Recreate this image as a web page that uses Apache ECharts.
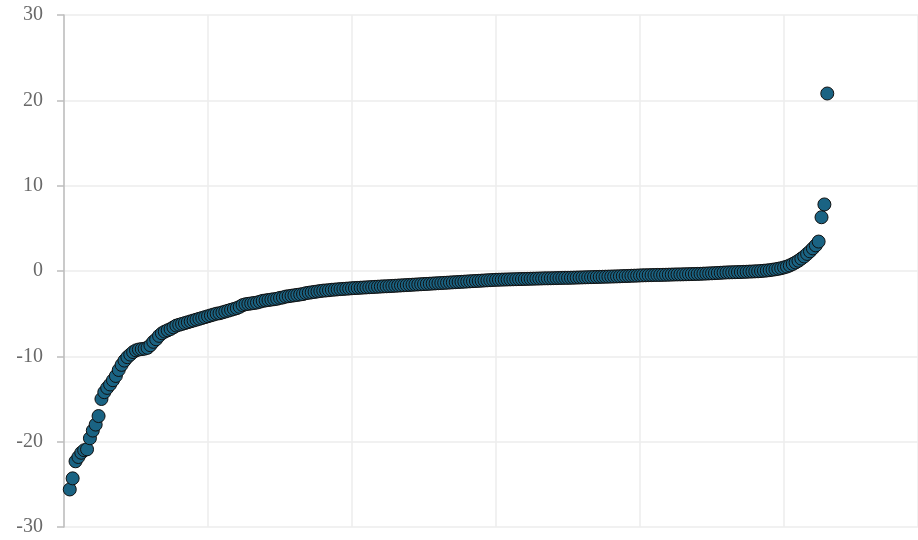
<!DOCTYPE html>
<html>
<head>
<meta charset="utf-8">
<script src="https://cdn.jsdelivr.net/npm/echarts@6/dist/echarts.min.js"></script>
<style>
  html, body { margin: 0; padding: 0; background: #fff; }
  #chart { width: 918px; height: 540px; }
</style>
</head>
<body>
<div id="chart"></div>
<script>
// Sorted residual values, one per observation (rank order)
const values = [
  -25.6, -24.3, -22.3, -21.8, -21.3, -21.0, -20.9, -19.6, -18.7, -18.0,
  -17.0, -15.0, -14.2, -13.7, -13.3, -12.8, -12.3, -11.6, -11.0, -10.5,
  -10.1, -9.8, -9.5, -9.3, -9.2, -9.15, -9.1, -9.0, -8.7, -8.3,
  -8.0, -7.6, -7.3, -7.1, -6.95, -6.8, -6.6, -6.4, -6.3, -6.2,
  -6.1, -6.0, -5.9, -5.8, -5.7, -5.6, -5.5, -5.4, -5.3, -5.2,
  -5.1, -5.0, -4.95, -4.85, -4.75, -4.65, -4.55, -4.45, -4.35, -4.2,
  -4.0, -3.9, -3.85, -3.8, -3.75, -3.7, -3.6, -3.5, -3.45, -3.4,
  -3.35, -3.3, -3.25, -3.15, -3.1, -3.0, -2.95, -2.9, -2.85, -2.8,
  -2.75, -2.7, -2.6, -2.55, -2.5, -2.45, -2.4, -2.35, -2.3, -2.28,
  -2.25, -2.2, -2.18, -2.15, -2.12, -2.1, -2.07, -2.05, -2.02, -2.0,
  -1.98, -1.96, -1.94, -1.92, -1.9, -1.88, -1.86, -1.84, -1.82, -1.8,
  -1.79, -1.77, -1.75, -1.73, -1.71, -1.69, -1.67, -1.65, -1.63, -1.61,
  -1.59, -1.57, -1.55, -1.53, -1.51, -1.49, -1.47, -1.45, -1.43, -1.41,
  -1.39, -1.37, -1.35, -1.33, -1.31, -1.29, -1.27, -1.25, -1.23, -1.21,
  -1.19, -1.17, -1.15, -1.13, -1.11, -1.09, -1.07, -1.05, -1.03,
  -1.02, -1.01, -1.0, -0.99, -0.98, -0.97, -0.96, -0.95, -0.94, -0.93,
  -0.92, -0.91, -0.9, -0.89, -0.88, -0.87, -0.86, -0.86, -0.85, -0.84, -0.83,
  -0.82, -0.81, -0.8, -0.8, -0.79, -0.78, -0.77, -0.76, -0.75, -0.74,
  -0.73, -0.72, -0.71, -0.7,
  -0.69, -0.68, -0.67, -0.66, -0.65, -0.64, -0.63, -0.62, -0.6,
  -0.59, -0.58, -0.56, -0.55, -0.54, -0.52,
  -0.51, -0.5, -0.49, -0.48, -0.47, -0.46, -0.46, -0.45, -0.44, -0.43,
  -0.42, -0.41, -0.4, -0.4, -0.39, -0.38, -0.37,
  -0.36, -0.35, -0.34, -0.33, -0.31, -0.3, -0.28, -0.27, -0.25, -0.23,
  -0.21, -0.19, -0.17,
  -0.16, -0.15, -0.14, -0.13, -0.12, -0.1, -0.09, -0.07, -0.06, -0.04, -0.03,
  0.0, 0.03, 0.06, 0.1, 0.15, 0.2, 0.26, 0.33, 0.42, 0.52,
  0.65, 0.82, 1.0, 1.2, 1.45, 1.7, 2.0, 2.3, 2.65, 3.0,
  3.45, 6.3, 7.8, 20.8
];

// Rank positions start at 2 on the x scale
const firstRank = 2;
const yTicks = [-30, -20, -10, 0, 10, 20, 30];

const points = values.map((v, i) => [firstRank + i, v]);

const chart = echarts.init(document.getElementById('chart'), null, { renderer: 'canvas' });

chart.setOption({
  animation: false,
  backgroundColor: '#ffffff',
  grid: { left: 64, right: 0, top: 15, bottom: 13, containLabel: false },
  xAxis: {
    type: 'value',
    min: 0,
    max: 296.5,
    interval: 50,
    axisLine: { show: false },
    axisTick: { show: false },
    axisLabel: { show: false },
    splitLine: { show: true, lineStyle: { color: '#ececec', width: 1.5 } }
  },
  yAxis: {
    type: 'value',
    min: yTicks[0],
    max: yTicks[yTicks.length - 1],
    interval: 10,
    axisLine: { show: true, lineStyle: { color: '#bdbdbd', width: 1.5 } },
    axisTick: { show: true, length: 7, lineStyle: { color: '#bdbdbd', width: 1.5 } },
    axisLabel: {
      margin: 21,
      color: '#696969',
      fontFamily: '"Liberation Serif", "DejaVu Serif", serif',
      fontSize: 20
    },
    splitLine: { show: true, lineStyle: { color: '#ececec', width: 1.5 } }
  },
  series: [{
    type: 'scatter',
    data: points,
    symbol: 'circle',
    symbolSize: 13,
    itemStyle: {
      color: '#1a6383',
      borderColor: '#111111',
      borderWidth: 1,
      opacity: 1
    }
  }]
});
</script>
</body>
</html>
